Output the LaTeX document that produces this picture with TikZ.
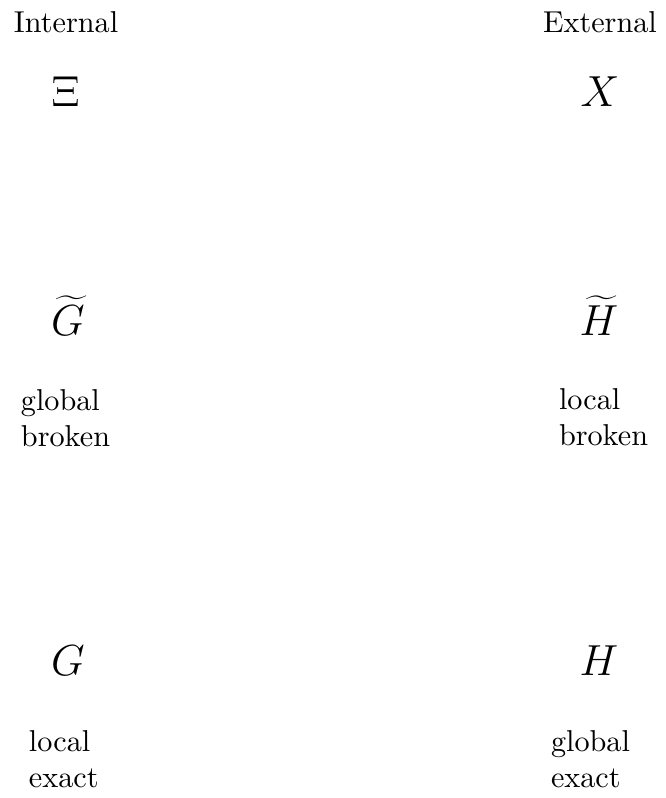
\documentclass[tikz,border=0pt]{standalone}
\begin{document}
\begin{tikzpicture}[x=0.3311pt,y=0.3311pt,
  lbl/.style={inner sep=0pt,outer sep=0pt,anchor=base west,font=\normalsize},
  sym/.style={inner sep=0pt,outer sep=0pt,anchor=base,font=\Large},
  blk/.style={inner sep=0pt,outer sep=0pt,anchor=base west,font=\normalsize}]
\useasboundingbox (0,0) rectangle (665,-798);
\node[lbl] (int) at (14,-33) {Internal};
\node[lbl] (ext) at (543,-33) {External};
\node[sym] (xi) at (65.5,-107) {$\Xi$};
\node[sym] (x) at (600,-107) {$X$};
\node[sym] (gt) at (68,-335) {$\widetilde{G}$};
\node[sym] (ht) at (599,-335) {$\widetilde{H}$};
\node[blk] (gtl) at (21,-410) {\begin{tabular}[t]{@{}l@{}}global\\broken\end{tabular}};
\node[blk] (htl) at (559,-409) {\begin{tabular}[t]{@{}l@{}}local\\broken\end{tabular}};
\node[sym] (g) at (68,-675) {$G$};
\node[sym] (h) at (599,-675) {$H$};
\node[blk] (gl) at (29,-751) {\begin{tabular}[t]{@{}l@{}}local\\exact\end{tabular}};
\node[blk] (hl) at (551,-751) {\begin{tabular}[t]{@{}l@{}}global\\exact\end{tabular}};
\end{tikzpicture}
\end{document}
